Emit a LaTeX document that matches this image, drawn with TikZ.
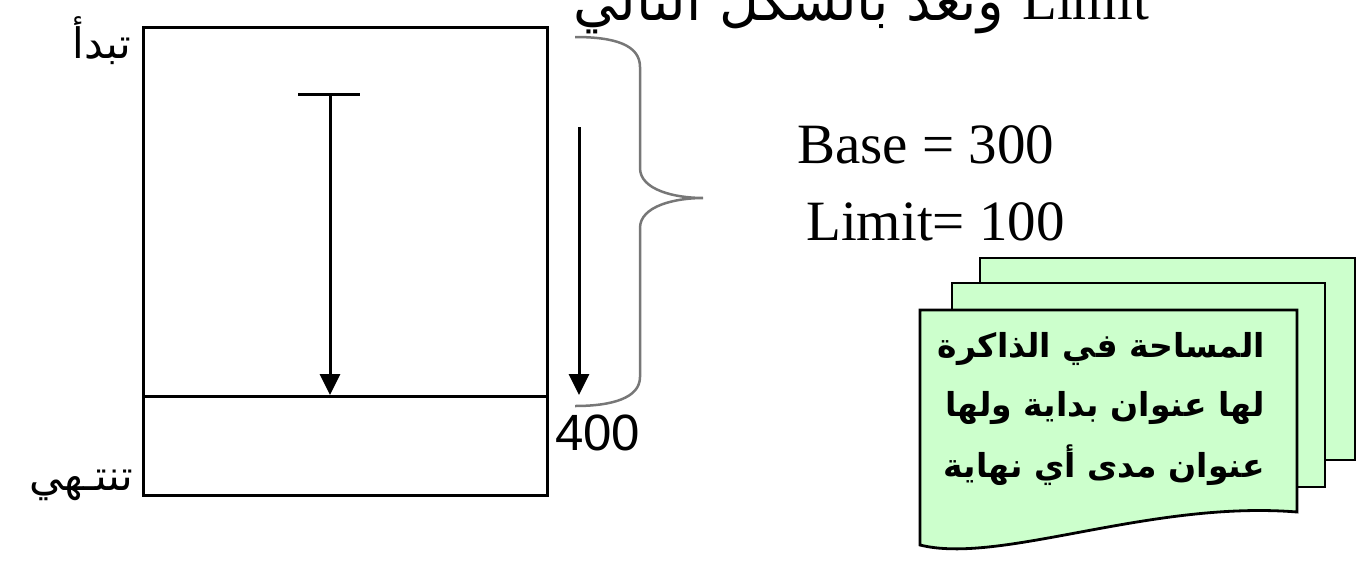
\documentclass[tikz,border=0pt]{standalone}
\usepackage{fontspec}
\setmainfont{Liberation Serif}
\newfontfamily\arabicfont[Script=Arabic]{DejaVu Sans}
\newfontfamily\latinsans{Liberation Sans}
\TeXXeTstate=1
\usetikzlibrary{arrows.meta}
\definecolor{notegreen}{HTML}{CCFFCC}
\definecolor{bracegray}{HTML}{777777}
\tikzset{
  memrect/.style={draw, line width=3pt, inner sep=0pt, minimum width=404pt, minimum height=468pt},
  thick3/.style={line width=3pt},
  arr/.style={line width=3pt, -{Triangle[width=20pt,length=21pt]}},
  bracestyle/.style={draw=bracegray, line width=2.5pt},
  sheet/.style={fill=notegreen, draw=black, line width=2.8pt, line join=miter},
  serif/.style={font=\fontsize{57}{60}\selectfont, inner sep=0pt},
  sanslbl/.style={font=\latinsans\fontsize{51}{55}\selectfont, inner sep=0pt},
  arlbl/.style={font=\arabicfont\fontsize{42}{46}\selectfont, inner sep=0pt},
  artop/.style={font=\arabicfont\fontsize{55}{60}\selectfont, inner sep=0pt},
  arnote/.style={font=\arabicfont\bfseries\fontsize{33}{36}\selectfont, inner sep=0pt},
}
\begin{document}
\begin{tikzpicture}[x=1pt,y=-1pt]
\useasboundingbox (0,0) rectangle (1362,560);

% top (cropped) line
\node[artop, anchor=base east] (toptxt) at (1004,20) {\beginR وتعد بالشكل التالي\endR};
\node[serif, anchor=base west] (toplim) at (1022,19) {Limit};

% memory block
\node[memrect] (mem) at (345,261) {};
\coordinate (divl) at (143,396);
\coordinate (divr) at (547,396);
\draw[thick3] (divl) -- (divr);

% labels
\node[arlbl, anchor=base east] (start) at (131,58) {\beginR تبدأ\endR};
\node[arlbl, anchor=base east] (end) at (133,490) {\beginR تنتـهي\endR};

% inner arrow with T bar
\coordinate (tl) at (298,94);
\coordinate (tr) at (360,94);
\coordinate (ta) at (330,94);
\coordinate (tb) at (330,395);
\draw[thick3] (tl) -- (tr);
\draw[arr] (ta) -- (tb);

% outer arrow
\coordinate (oa) at (579,127);
\coordinate (ob) at (579,395);
\draw[arr] (oa) -- (ob);

% brace
\coordinate (bt) at (575,37);
\coordinate (bp) at (703,198);
\coordinate (bb) at (575,406);
\draw[bracestyle] (bt) .. controls (615,37) and (640,45) .. (640,67) -- (640,168)
  .. controls (640,190) and (675,198) .. (bp)
  .. controls (675,198) and (640,206) .. (640,228) -- (640,377)
  .. controls (640,398) and (612,406) .. (bb);

\node[sanslbl, anchor=base west] (four) at (555,450) {400};

% base / limit
\node[serif, anchor=base west] (basetxt) at (797,163) {Base = 300};
\node[serif, anchor=base west] (limtxt) at (806,240) {Limit= 100};

% stacked documents
\draw[sheet] (980,258) rectangle (1355,460);
\draw[sheet] (952,283) rectangle (1325,487);
\draw[sheet] (920,310) -- (1297,310) -- (1297,512)
  .. controls (1150,500) and (1000,565) .. (920,545) -- cycle;

\node[arnote, anchor=base east] (n1) at (1265,357) {\beginR المساحة في الذاكرة\endR};
\node[arnote, anchor=base east] (n2) at (1265,416) {\beginR لها عنوان بداية ولها\endR};
\node[arnote, anchor=base east] (n3) at (1265,477) {\beginR عنوان مدى أي نهاية\endR};
\end{tikzpicture}
\end{document}
